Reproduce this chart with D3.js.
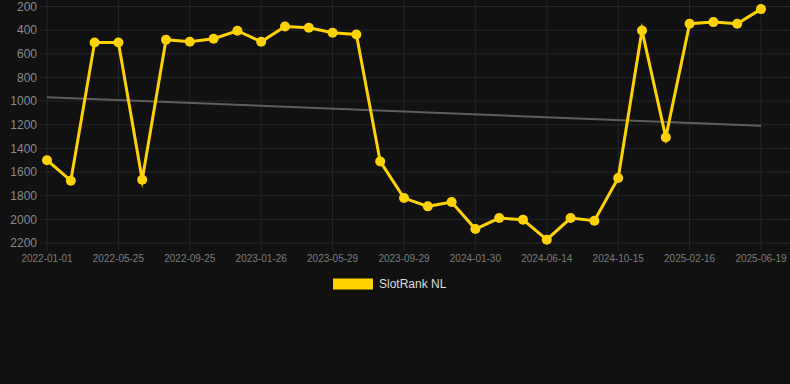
<!DOCTYPE html>
<html>
<head>
<meta charset="utf-8">
<script src="https://cdn.jsdelivr.net/npm/d3@7"></script>
<style>
	html, body { margin: 0; padding: 0; background: #111111; }
	svg { display: block; font-family: "Liberation Sans", Arial, Helvetica, sans-serif; }
	.grid line { stroke: #262626; stroke-width: 1; }
	.y-label { fill: #8a8a8a; font-size: 12px; }
	.x-label { fill: #7d7d7d; font-size: 10px; }
	.legend-text { fill: #dddddd; font-size: 12px; }
</style>
</head>
<body>
<script>
const dates = [
	"2022-01-01", "2022-02-18", "2022-04-07", "2022-05-25", "2022-07-05", "2022-08-15",
	"2022-09-25", "2022-11-05", "2022-12-16", "2023-01-26", "2023-03-08", "2023-04-18",
	"2023-05-29", "2023-07-09", "2023-08-19", "2023-09-29", "2023-11-09", "2023-12-20",
	"2024-01-30", "2024-03-16", "2024-04-30", "2024-06-14", "2024-07-25", "2024-09-04",
	"2024-10-15", "2024-11-25", "2025-01-05", "2025-02-16", "2025-03-30", "2025-05-10",
	"2025-06-19"
];

const rankNL = [
	1500, 1673, 504, 504, 1665, 481,
	498, 473, 405, 498, 369, 380,
	422, 437, 1510, 1820, 1890, 1854,
	2082, 1989, 2003, 2172, 1989, 2012,
	1651, 403, 1307, 346, 332, 346,
	222
];

const yTicks = [200, 400, 600, 800, 1000, 1200, 1400, 1600, 1800, 2000, 2200];
const seriesName = "SlotRank NL";

const config = {
	width: 790,
	height: 384,
	left: 47,
	right: 761,
	top: 6.5,
	bottom: 243,
	lineColor: "#FFD200",
	trendColor: "#5e5e5e"
};

const svg = d3
	.select("body")
	.append("svg")
	.attr("width", config.width)
	.attr("height", config.height);

const x = d3.scalePoint().domain(dates).range([config.left, config.right]);
const y = d3.scaleLinear().domain([200, 2200]).range([config.top, config.bottom]);

// only every third date gets a label, like the autoskip in the original
const shownDates = dates.filter((d, i) => i % 3 === 0);

const grid = svg.append("g").attr("class", "grid");

grid.selectAll(".h")
	.data(yTicks)
	.join("line")
	.attr("x1", config.left - 7)
	.attr("x2", config.width)
	.attr("y1", d => y(d))
	.attr("y2", d => y(d));

grid.selectAll(".v")
	.data(shownDates)
	.join("line")
	.attr("x1", d => x(d))
	.attr("x2", d => x(d))
	.attr("y1", 0)
	.attr("y2", config.bottom + 7);

svg.append("g")
	.selectAll("text")
	.data(yTicks)
	.join("text")
	.attr("class", "y-label")
	.attr("x", 37)
	.attr("y", d => y(d))
	.attr("dy", "0.35em")
	.attr("text-anchor", "end")
	.text(d => d);

svg.append("g")
	.selectAll("text")
	.data(shownDates)
	.join("text")
	.attr("class", "x-label")
	.attr("x", d => x(d))
	.attr("y", 262)
	.attr("text-anchor", "middle")
	.text(d => d);

// least squares trend over the series
const n = rankNL.length;
const meanI = (n - 1) / 2;
const meanV = d3.mean(rankNL);
const slope = d3.sum(rankNL, (v, i) => (i - meanI) * (v - meanV)) /
	d3.sum(rankNL, (v, i) => (i - meanI) * (i - meanI));
const trend = [0, n - 1].map(i => ({ date: dates[i], value: meanV + slope * (i - meanI) }));

svg.append("path")
	.datum(trend)
	.attr("fill", "none")
	.attr("stroke", config.trendColor)
	.attr("stroke-width", 2)
	.attr("d", d3.line().x(d => x(d.date)).y(d => y(d.value)));

const points = dates.map((d, i) => ({ date: d, value: rankNL[i] }));

svg.append("path")
	.datum(points)
	.attr("fill", "none")
	.attr("stroke", config.lineColor)
	.attr("stroke-width", 3)
	.attr("stroke-linejoin", "miter")
	.attr("stroke-miterlimit", 10)
	.attr("d", d3.line().x(d => x(d.date)).y(d => y(d.value)));

svg.append("g")
	.selectAll("circle")
	.data(points)
	.join("circle")
	.attr("cx", d => x(d.date))
	.attr("cy", d => y(d.value))
	.attr("r", 5)
	.attr("fill", config.lineColor);

const legend = svg.append("g");
legend.append("rect")
	.attr("x", 333)
	.attr("y", 278.5)
	.attr("width", 40)
	.attr("height", 11)
	.attr("fill", config.lineColor);
legend.append("text")
	.attr("class", "legend-text")
	.attr("x", 379)
	.attr("y", 284)
	.attr("dy", "0.35em")
	.text(seriesName);
</script>
</body>
</html>
